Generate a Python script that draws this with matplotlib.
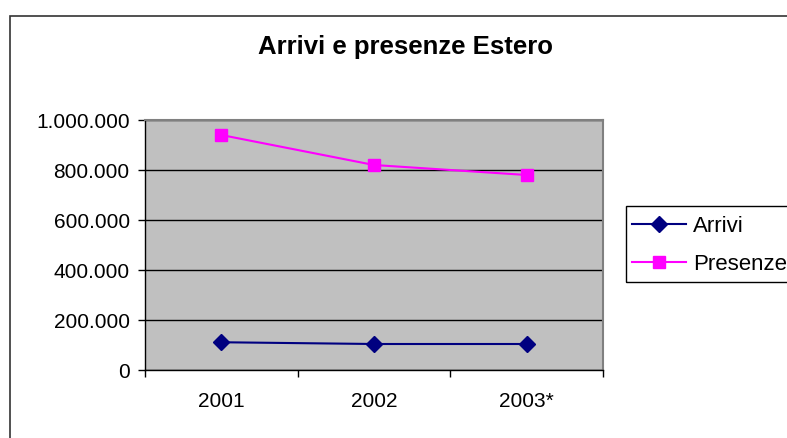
import matplotlib.pyplot as plt
from matplotlib.patches import Rectangle
from matplotlib.ticker import FuncFormatter

plt.rcParams['font.family'] = ['Liberation Sans', 'DejaVu Sans']

years = ['2001', '2002', '2003*']
arrivi = [111000, 104000, 104000]
presenze = [940000, 820000, 780000]

W, H = 787, 438
fig = plt.figure(figsize=(W / 100, H / 100), dpi=100)

# outer chart frame (right and bottom edges run off the picture)
fig.patches.append(Rectangle((10 / W, -0.1), 1.1, 1 - 16 / H + 0.1,
                             transform=fig.transFigure, fill=False,
                             edgecolor='#333333', linewidth=1.2))
# legend frame, also cut by the right edge
fig.patches.append(Rectangle((626 / W, 1 - 282 / H), 200 / W, 76 / H,
                             transform=fig.transFigure, fill=False,
                             edgecolor='black', linewidth=1))

ax = fig.add_axes([145 / W, (H - 370) / H, 458 / W, 250 / H])
ax.set_facecolor('#C0C0C0')

x = range(len(years))
ax.plot(x, arrivi, color='#000080', marker='D', markersize=8, linewidth=1.5, label='Arrivi')
ax.plot(x, presenze, color='#FF00FF', marker='s', markersize=9, linewidth=1.5, label='Presenze')

ax.set_xlim(-0.5, 2.5)
ax.set_ylim(0, 1000000)
ax.set_yticks(range(0, 1000001, 200000))
ax.yaxis.set_major_formatter(FuncFormatter(lambda v, p: f'{int(v):,}'.replace(',', '.')))
ax.grid(axis='y', color='black', linewidth=1)
ax.set_axisbelow(True)

ax.set_xticks([-0.5, 0.5, 1.5, 2.5])
ax.set_xticklabels([])
ax.set_xticks(list(x), minor=True)
ax.set_xticklabels(years, minor=True)
ax.tick_params(axis='x', which='minor', length=0, pad=16, labelsize=15)
ax.tick_params(axis='x', which='major', length=5, direction='out', width=1)
ax.tick_params(axis='y', length=5, direction='out', width=1, labelsize=15, pad=6)

for side in ['top', 'right']:
    ax.spines[side].set_color('#808080')
    ax.spines[side].set_linewidth(1.5)
for side in ['left', 'bottom']:
    ax.spines[side].set_color('black')
    ax.spines[side].set_linewidth(1)

fig.text(405 / W, 1 - 47 / H, 'Arrivi e presenze Estero', ha='center', va='center',
         fontsize=18.5, fontweight='bold')

fig.legend(loc='upper left', bbox_to_anchor=(632 / W, 1 - 216 / H), fontsize=16,
           frameon=False, handlelength=2.45, handletextpad=0.3, borderpad=0,
           labelspacing=0.75, borderaxespad=0)

fig.savefig('out.png', dpi=100)
